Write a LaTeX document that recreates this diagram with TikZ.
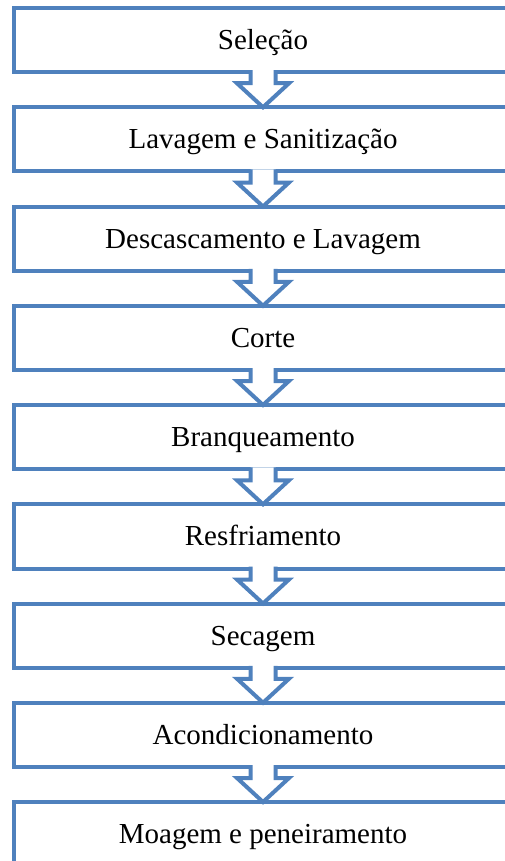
\documentclass[tikz,border=0pt]{standalone}
\usepackage{fontspec}
\setmainfont{Liberation Serif}
\usepackage{tikz}
\usetikzlibrary{positioning,calc}
\definecolor{boxblue}{HTML}{4F81BD}

\begin{document}
\begin{tikzpicture}[node distance=35pt,
  stepbox/.style={draw=boxblue,line width=4pt,outer sep=0pt,inner sep=0pt,
    minimum width=499pt,minimum height=64.25pt,text height=21pt,text depth=2pt,
    font=\fontsize{29}{34}\selectfont},
  blockarrow/.style={draw=boxblue,line width=4pt,fill=white,
    to path={($(\tikztostart.south)+(-12.5pt,2pt)$) -- ++(0,-13pt) -- ++(-13.5pt,0)
      -- (\tikztotarget.north) -- ($(\tikztostart.south)+(26pt,-11pt)$)
      -- ++(-13.5pt,0) -- ++(0,13pt)}}]

\useasboundingbox (0,0) rectangle (505pt,-861pt);

\node[stepbox] (S1) at (263pt,-40.125pt) {Seleção};
\node[stepbox] (S2) [below=of S1] {Lavagem e Sanitização};
\node[stepbox] (S3) [below=of S2] {Descascamento e Lavagem};
\node[stepbox] (S4) [below=of S3] {Corte};
\node[stepbox] (S5) [below=of S4] {Branqueamento};
\node[stepbox] (S6) [below=of S5] {Resfriamento};
\node[stepbox] (S7) [below=of S6] {Secagem};
\node[stepbox] (S8) [below=of S7] {Acondicionamento};
\node[stepbox] (S9) [below=of S8] {Moagem e peneiramento};

\path (S1) edge[blockarrow] (S2)
      (S2) edge[blockarrow] (S3)
      (S3) edge[blockarrow] (S4)
      (S4) edge[blockarrow] (S5)
      (S5) edge[blockarrow] (S6)
      (S6) edge[blockarrow] (S7)
      (S7) edge[blockarrow] (S8)
      (S8) edge[blockarrow] (S9);
\end{tikzpicture}
\end{document}
